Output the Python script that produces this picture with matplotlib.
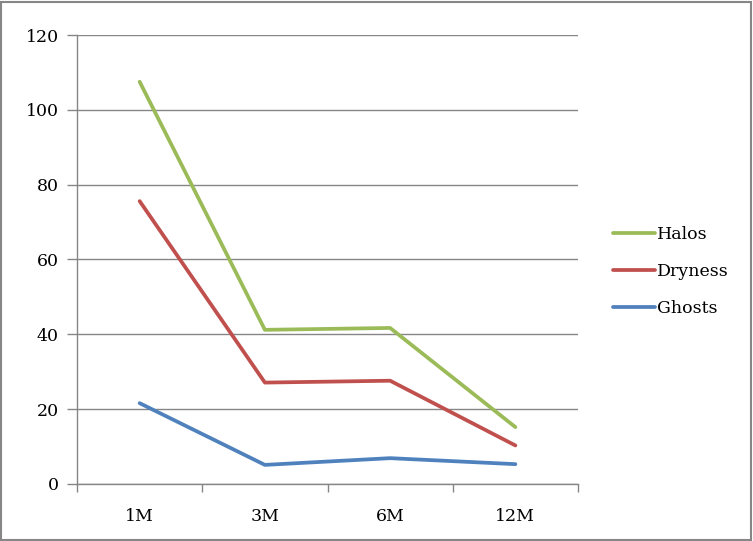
import matplotlib.pyplot as plt
from matplotlib.patches import Rectangle

plt.rcParams['font.family'] = ['DejaVu Serif']

categories = ['1M', '3M', '6M', '12M']
halos = [107.5, 41.2, 41.7, 15.2]
dryness = [75.6, 27.1, 27.6, 10.3]
ghosts = [21.6, 5.1, 6.9, 5.3]

green = '#9BBB59'
red = '#C0504D'
blue = '#4F81BD'
grey = '#868686'

fig = plt.figure(figsize=(7.53, 5.41), dpi=100)
ax = fig.add_axes([0.1023, 0.1054, 0.6653, 0.8299])

x = range(len(categories))
ax.plot(x, halos, color=green, lw=2.7, label='Halos', solid_capstyle='round')
ax.plot(x, dryness, color=red, lw=2.7, label='Dryness', solid_capstyle='round')
ax.plot(x, ghosts, color=blue, lw=2.7, label='Ghosts', solid_capstyle='round')

ax.set_xlim(-0.5, len(categories) - 0.5)
ax.set_ylim(0, 120)
ax.set_yticks(range(0, 121, 20))
ax.set_xticks(list(x))
ax.set_xticklabels(categories)
ax.set_xticks([i - 0.5 for i in range(len(categories) + 1)], minor=True)
ax.tick_params(axis='x', which='major', length=0, pad=17, labelsize=12.5)
ax.tick_params(axis='x', which='minor', length=6, color=grey, width=1)
ax.tick_params(axis='y', length=7, color=grey, width=1, pad=6, labelsize=12.5)

ax.grid(axis='y', color=grey, lw=1)
ax.set_axisbelow(True)
for s in ['top', 'right']:
    ax.spines[s].set_visible(False)
for s in ['left', 'bottom']:
    ax.spines[s].set_color(grey)
    ax.spines[s].set_linewidth(1)

leg = ax.legend(loc='center left', bbox_to_anchor=(1.07, 0.474), frameon=False,
                fontsize=12.5, handlelength=2.4, handletextpad=0.15, labelspacing=1.15,
                borderpad=0, borderaxespad=0)

fig.patches.append(Rectangle((0.001, 0.002), 0.996, 0.995, transform=fig.transFigure,
                             fill=False, edgecolor=grey, lw=1.5))

fig.savefig('out.png', dpi=100)
